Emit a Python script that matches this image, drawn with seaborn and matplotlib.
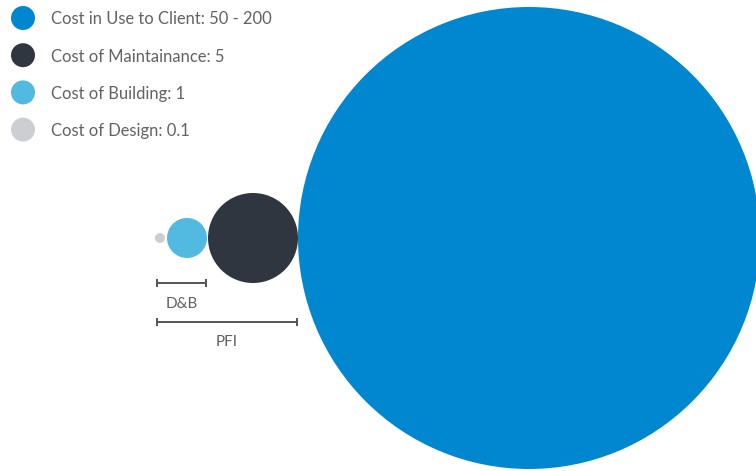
import matplotlib
matplotlib.use("Agg")
import matplotlib.pyplot as plt
import seaborn as sns
import pandas as pd

# ---- data ----
labels = ["Cost in Use to Client: 50 - 200", "Cost of Maintainance: 5",
          "Cost of Building: 1", "Cost of Design: 0.1"]
components = ["Use", "Maintenance", "Building", "Design"]
costs = [200, 5, 1, 0.1]
brackets = ["D&B", "PFI"]
bracket_members = [["Design", "Building"], ["Design", "Building", "Maintenance"]]

# ---- style ----
colors = ["#0087CF", "#2F3640", "#52B9E0", "#CDCED1"]
radius_px = {"Use": 231, "Maintenance": 45, "Building": 20, "Design": 5}
gaps_px = [2, 1, 0]           # gaps between neighbouring bubbles (left->right)
text_color = "#626262"
W, H, DPI = 756, 471, 100

sns.set_theme(style="white")
plt.rcParams["font.family"] = ["Lato", "DejaVu Sans"]

fig = plt.figure(figsize=(W / DPI, H / DPI), dpi=DPI)
ax = fig.add_axes([0, 0, 1, 1])
ax.set_xlim(0, W)
ax.set_ylim(H, 0)
ax.axis("off")

px2pt = 72 / DPI

# bubble layout: left to right Design, Building, Maintenance, Use
order = ["Design", "Building", "Maintenance", "Use"]
cy = 238
x = 160
centers = {}
for i, name in enumerate(order):
    if i > 0:
        prev = order[i - 1]
        x = centers[prev] + radius_px[prev] + gaps_px[i - 1] + radius_px[name]
    centers[name] = x

df = pd.DataFrame({
    "component": components,
    "cost": costs,
    "x": [centers[c] for c in components],
    "y": [cy] * len(components),
    "s": [(2 * radius_px[c] * px2pt) ** 2 for c in components],
    "color": colors,
})
sns.scatterplot(data=df, x="x", y="y", s=df["s"], c=df["color"].tolist(),
                linewidth=0, ax=ax, legend=False, clip_on=False)

# legend (manual)
leg_y0, leg_dy = 18, 37.2
leg = pd.DataFrame({"x": [23] * 4,
                    "y": [leg_y0 + i * leg_dy for i in range(4)],
                    "color": colors})
sns.scatterplot(data=leg, x="x", y="y", s=(24 * px2pt) ** 2,
                c=leg["color"].tolist(), linewidth=0, ax=ax, legend=False)
for i, lab in enumerate(labels):
    ax.text(51, leg_y0 + i * leg_dy, lab, fontsize=11.9, color=text_color,
            va="center_baseline", ha="left")

# brackets
bar_y = [283, 322]
for name, members, by in zip(brackets, bracket_members, bar_y):
    x0 = min(centers[m] - radius_px[m] for m in members) + 2
    x1 = max(centers[m] + radius_px[m] for m in members) - 1
    ax.plot([x0, x1], [by, by], color="#555555", lw=1.4,
            marker="|", markersize=6, markeredgewidth=1.4)
    ax.text((x0 + x1) / 2, by + 19, name, fontsize=11, color=text_color,
            ha="center", va="center_baseline")

fig.savefig("out.png", dpi=DPI, facecolor="white")
